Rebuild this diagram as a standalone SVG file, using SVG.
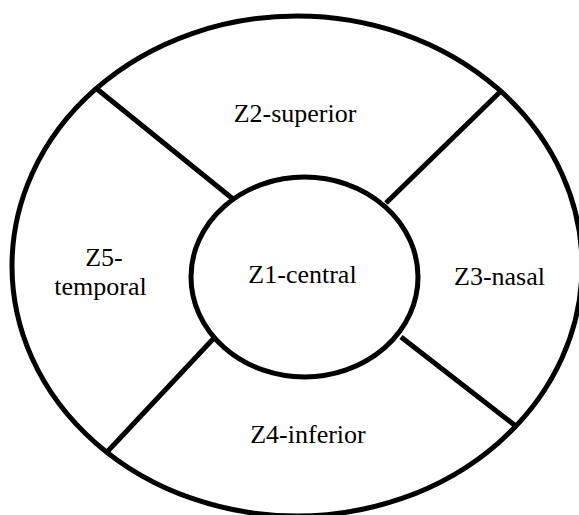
<svg xmlns="http://www.w3.org/2000/svg" width="579" height="515" viewBox="0 0 579 515">
<style>
.shape{fill:none;stroke:#000;stroke-width:5}
.lbl{font-family:'Liberation Serif','Times New Roman',serif;font-size:26px;fill:#000;text-anchor:middle}
</style>
<rect width="579" height="515" fill="#fff"/>
<g id="outer"><ellipse class="shape" cx="297" cy="266" rx="285" ry="250"/></g>
<g id="connectors">
<line class="shape" x1="97" y1="89" x2="233" y2="199"/>
<line class="shape" x1="501" y1="91" x2="386" y2="203"/>
<line class="shape" x1="214" y1="338" x2="107" y2="452"/>
<line class="shape" x1="401" y1="337" x2="517" y2="427"/>
</g>
<g id="z1"><ellipse cx="304.5" cy="277" rx="113.5" ry="100" fill="#fff" stroke="#000" stroke-width="5"/>
<text class="lbl" x="302.5" y="283">Z1-central</text></g>
<g id="z2"><text class="lbl" x="295" y="122">Z2-superior</text></g>
<g id="z3"><text class="lbl" x="499.5" y="285">Z3-nasal</text></g>
<g id="z4"><text class="lbl" x="308" y="443">Z4-inferior</text></g>
<g id="z5"><text class="lbl" x="104" y="266">Z5-</text><text class="lbl" x="100.5" y="295">temporal</text></g>
</svg>
